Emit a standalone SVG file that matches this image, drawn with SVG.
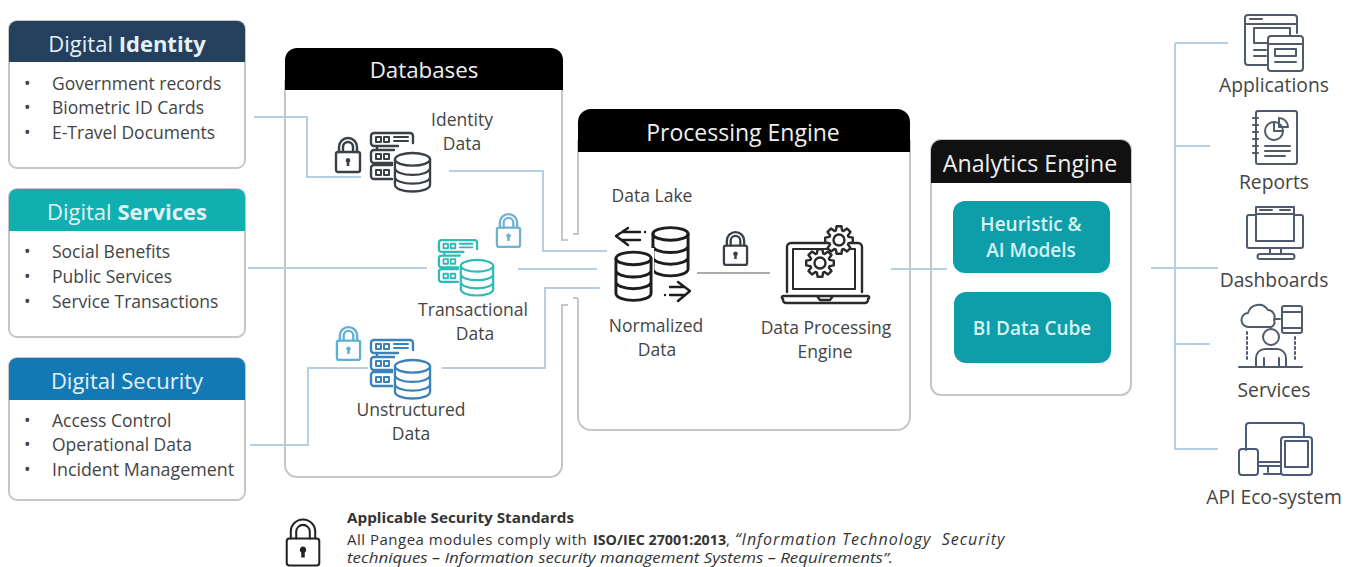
<svg xmlns="http://www.w3.org/2000/svg" width="1352" height="567" viewBox="0 0 1352 567">
<style>
text{font-family:"Open Sans","Noto Sans","Liberation Sans",sans-serif;fill:#444}
.h{font-size:22px;fill:#e4f1f6;text-anchor:middle}
.b{font-weight:700}
.ph{font-size:22.300px;fill:#efefef;text-anchor:middle}
.i{font-size:17.500px;transform:translateY(1px)}
.l{font-size:17.500px;text-anchor:middle;transform:translateY(1px)}
.r{font-size:19.300px;text-anchor:middle;transform:translateY(1px)}
.w{font-size:19px;fill:#d8f2f4;text-anchor:middle;font-weight:600}
.s{font-size:15px;fill:#333}
.card{fill:#fff;stroke:#c4c6c9;stroke-width:2}
.conn{fill:none;stroke:#b4cfe6;stroke-width:2}
.gr{fill:none;stroke:#c4c6c9;stroke-width:2}
.ic{fill:none;stroke:currentColor;stroke-width:var(--sw,2.400);stroke-linejoin:round;stroke-linecap:round}
.ict{fill:none;stroke:currentColor;stroke-width:2;stroke-linejoin:round;stroke-linecap:round}
</style>
<defs>
<symbol id="lock" viewBox="0 0 28 36" overflow="visible">
<path class="ic" d="M5 15V10a9 9 0 0 1 18 0v5M9 15V10a5 5 0 0 1 10 0v5"/>
<rect class="ic" x="2" y="15" width="24" height="20" rx="2"/>
<path d="M14 21a2.400 2.400 0 0 1 1.300 4.400V29h-2.600v-3.600A2.400 2.400 0 0 1 14 21z" fill="currentColor"/>
</symbol>
<symbol id="db" viewBox="0 0 40 42" overflow="visible">
<ellipse class="ic" cx="20" cy="8" rx="18" ry="6.500"/>
<path class="ic" d="M2 8v26c0 4 8 7 18 7s18-3 18-7V8M2 17c0 4 8 7 18 7s18-3 18-7M2 26c0 4 8 7 18 7s18-3 18-7"/>
</symbol>
<symbol id="dbt" viewBox="0 0 40 52" overflow="visible">
<ellipse class="ic" cx="20" cy="8" rx="18" ry="6.500" style="--sw:3"/>
<path class="ic" style="--sw:3" d="M2 8v36c0 4 8 7 18 7s18-3 18-7V8M2 20c0 4 8 7 18 7s18-3 18-7M2 32c0 4 8 7 18 7s18-3 18-7"/>
</symbol>
<symbol id="srv" viewBox="0 0 44 48" overflow="visible">
<path class="ic" d="M28 14H4a3 3 0 0 1-3-3V4a3 3 0 0 1 3-3h36a3 3 0 0 1 3 3v7M22 31H4a3 3 0 0 1-3-3v-7a3 3 0 0 1 3-3h20M22 47H4a3 3 0 0 1-3-3v-8a3 3 0 0 1 3-3h18M7 14v4M7 31v2"/>
<path class="ict" d="M6 5h5v5H6zM14 5h5v5h-5zM24 5h14M24 9h14M6 22h5v5H6zM14 22h5v5h-5zM6 38h5v5H6zM14 38h5v5h-5z"/>
</symbol>
<g id="stack"><use href="#srv" width="44" height="48"/><use href="#db" x="23" y="19" width="39" height="42"/></g>
<g id="gear"><path fill="#fff" stroke="currentColor" stroke-width="2.400" stroke-linejoin="round" d="M9.510-3.090L13.790-2.430L13.790 2.430L9.510 3.090L8.910 4.540L11.470 8.030L8.030 11.470L4.540 8.910L3.090 9.510L2.430 13.790L-2.430 13.790L-3.090 9.510L-4.540 8.910L-8.030 11.470L-11.470 8.030L-8.910 4.540L-9.510 3.090L-13.790 2.430L-13.790-2.430L-9.510-3.090L-8.910-4.540L-11.470-8.030L-8.030-11.470L-4.540-8.910L-3.090-9.510L-2.430-13.790L2.430-13.790L3.090-9.510L4.540-8.910L8.030-11.470L11.470-8.030L8.910-4.540z"/><circle r="5.500" fill="none" stroke="currentColor" stroke-width="2.400"/></g>
</defs>

<g id="digital-identity">
<rect class="card" x="9" y="21" width="236" height="147" rx="8"/>
<path d="M9 62V29a8 8 0 0 1 8-8H237a8 8 0 0 1 8 8V62z" fill="#25405f"/>
<text class="h" x="127" y="52">Digital <tspan class="b">Identity</tspan></text>
<text class="i" x="24" y="89">•</text><text class="i" x="52" y="89">Government records</text>
<text class="i" x="24" y="113">•</text><text class="i" x="52" y="113">Biometric ID Cards</text>
<text class="i" x="24" y="138">•</text><text class="i" x="52" y="138">E-Travel Documents</text>
</g>
<g id="digital-services">
<rect class="card" x="9" y="189" width="236" height="148" rx="8"/>
<path d="M9 231V197a8 8 0 0 1 8-8H237a8 8 0 0 1 8 8V231z" fill="#0fb0b0"/>
<text class="h" x="127" y="220">Digital <tspan class="b">Services</tspan></text>
<text class="i" x="24" y="257">•</text><text class="i" x="52" y="257">Social Benefits</text>
<text class="i" x="24" y="282">•</text><text class="i" x="52" y="282">Public Services</text>
<text class="i" x="24" y="307">•</text><text class="i" x="52" y="307">Service Transactions</text>
</g>
<g id="digital-security">
<rect class="card" x="9" y="358" width="236" height="142" rx="8"/>
<path d="M9 400V366a8 8 0 0 1 8-8H237a8 8 0 0 1 8 8V400z" fill="#1379b5"/>
<text class="h" x="127" y="389">Digital Security</text>
<text class="i" x="24" y="426">•</text><text class="i" x="52" y="426">Access Control</text>
<text class="i" x="24" y="450">•</text><text class="i" x="52" y="450">Operational Data</text>
<text class="i" x="24" y="475">•</text><text class="i" x="52" y="475" textLength="182" lengthAdjust="spacingAndGlyphs">Incident Management</text>
</g>

<g id="databases">
<path class="gr" d="M285 80V465a12 12 0 0 0 12 12H550a12 12 0 0 0 12-12V305H568M562 80V240H568"/>
<path d="M285 90V60a12 12 0 0 1 12-12H551a12 12 0 0 1 12 12V90z" fill="#000"/>
<text class="ph" x="424" y="78">Databases</text>
</g>
<g id="processing-engine">
<path class="gr" d="M578 140V234H573M578 298V417a13 13 0 0 0 13 13H897a13 13 0 0 0 13-13V140M578 298H573"/>
<path d="M578 152V122a13 13 0 0 1 13-13H897a13 13 0 0 1 13 13V152z" fill="#000"/>
<text class="ph" style="font-size:23px" x="743" y="141">Processing Engine</text>
</g>
<g id="analytics-engine">
<rect class="card" x="931" y="140" width="200" height="255" rx="10"/>
<path d="M931 183V150a10 10 0 0 1 10-10H1121a10 10 0 0 1 10 10V183z" fill="#111"/>
<text class="ph" style="font-size:23.200px" x="1030" y="172">Analytics Engine</text>
</g>

<g id="connectors">
<path class="conn" d="M254 117H307V177H361"/>
<path class="conn" d="M449 171H543V251H607"/>
<path class="conn" d="M248 268H427"/>
<path class="conn" d="M518 269H597"/>
<path class="conn" d="M442 368H545V288H600"/>
<path class="conn" d="M250 445H308V368H368"/>
<path class="gr" style="stroke:#8d9296;stroke-width:1.600" d="M697 273H770"/>
<path class="conn" d="M891 269H947"/>
<path class="conn" d="M1151 268H1218M1175 43V449H1218M1175 43H1228M1175 146H1210M1175 344H1210"/>
</g>

<g id="identity-data" color="#3b3f46">
<use href="#lock" x="334" y="137" width="28" height="36"/>
<use href="#stack" x="370" y="132"/>
<text class="l" x="462" y="125">Identity</text><text class="l" x="462" y="149">Data</text>
</g>
<g id="transactional-data" color="#2cbcb8">
<use href="#lock" x="495" y="213" width="27" height="35" color="#6fb3d0"/>
<use href="#srv" x="438" y="238" width="40" height="46"/>
<use href="#db" x="459" y="258" width="36" height="39"/>
<text class="l" x="473" y="315">Transactional</text><text class="l" x="475" y="339">Data</text>
</g>
<g id="unstructured-data" color="#3a82b8">
<use href="#lock" x="335" y="326" width="27" height="35" color="#5fb0d4"/>
<use href="#stack" x="370" y="339"/>
<text class="l" x="411" y="415">Unstructured</text><text class="l" x="411" y="439">Data</text>
</g>

<g id="normalized-data" color="#1d1d1d">
<use href="#dbt" x="651" y="226" width="39" height="51"/>
<rect x="613" y="248" width="41" height="55" fill="#fff"/>
<use href="#dbt" x="614" y="250" width="39" height="52"/>
<path class="ic" d="M628 228L616 236L628 245M622 232H640M622 240H640M645 232V232"/>
<path class="ic" d="M678 282L690 291L678 301M665 295V295M670 287H684M670 295H684"/>
<text class="l" x="652" y="201">Data Lake</text>
<text class="l" x="656" y="331">Normalized</text><text class="l" x="657" y="355">Data</text>
</g>
<g id="pipeline-lock" color="#3b3f46"><use href="#lock" x="722" y="231" width="27" height="35"/></g>
<g id="data-processing-engine" color="#2a2a2a">
<path class="ic" d="M787 292V247a4 4 0 0 1 4-4H858a4 4 0 0 1 4 4V292M787 296H784a1.500 1.500 0 0 0-1 3v1a3 3 0 0 0 3 3H865a3 3 0 0 0 3-3v-1a1.500 1.500 0 0 0-1-3H787M817 296l3 4H830l3-4"/>
<rect class="ict" x="793" y="249" width="62" height="40"/>
<use href="#gear" x="839" y="240"/>
<use href="#gear" x="820" y="263"/>
<text class="l" x="826" y="333">Data Processing</text><text class="l" x="825" y="357">Engine</text>
</g>

<g id="heuristic-models">
<rect x="953" y="201" width="157" height="72" rx="12" fill="#0e9eaa"/>
<text class="w" x="1031" y="231">Heuristic &amp;</text><text class="w" x="1031" y="257">AI Models</text>
</g>
<g id="bi-data-cube">
<rect x="954" y="292" width="157" height="71" rx="12" fill="#0e9eaa"/>
<text class="w" x="1032" y="335">BI Data Cube</text>
</g>

<g id="applications" color="#4f5a6b">
<path class="ict" d="M1267 65H1248a3 3 0 0 1-3-3V18a3 3 0 0 1 3-3H1294a3 3 0 0 1 3 3V33M1245 24H1297M1250 19H1262M1254 28H1290V36M1254 28V43H1267M1254 50H1266M1254 56H1266"/>
<rect class="ict" x="1268" y="36" width="35" height="35" rx="3"/>
<path class="ict" d="M1268 44H1303M1275 49H1296V56H1275zM1275 62H1296"/>
<text class="r" x="1274" y="91">Applications</text>
</g>
<g id="reports" color="#4f5a6b">
<rect class="ict" x="1256" y="111" width="41" height="53" rx="2"/>
<path class="ict" d="M1253 118h5M1253 125h5M1253 132h5M1253 139h5M1253 146h5M1253 153h5M1265 146H1290M1265 151H1290M1265 156H1285"/>
<circle class="ict" cx="1274" cy="131" r="9"/><path class="ict" d="M1274 122V131H1283M1279 118a9 9 0 0 1 9 9h-9z"/>
<text class="r" x="1274" y="188">Reports</text>
</g>
<g id="dashboards" color="#4f5a6b">
<path class="ict" d="M1256 215H1249a2 2 0 0 0-2 2V246a2 2 0 0 0 2 2H1301a2 2 0 0 0 2-2V217a2 2 0 0 0-2-2H1294M1256 241V207H1294V241M1256 241H1294M1256 214H1294M1260 210H1272M1280 210H1290M1270 248V254M1281 254V248M1260 259H1292a2.500 2.500 0 0 0 0-5H1260a2.500 2.500 0 0 0 0 5z"/>
<text class="r" x="1274" y="286">Dashboards</text>
</g>
<g id="services" color="#4f5a6b">
<path class="ict" d="M1249 327a7 7 0 0 1-1-14 11 11 0 0 1 20-3 7 7 0 0 1 6 10 5 5 0 0 1-3 7zM1274 319H1280"/>
<rect class="ict" x="1282" y="306" width="20" height="27" rx="2"/>
<path class="ict" d="M1282 312H1302M1282 328H1302"/>
<path class="ict" stroke-dasharray="2 3" d="M1247 332V360M1295 337V360"/>
<circle class="ict" cx="1271" cy="337" r="8"/>
<path class="ict" d="M1256 366V358a9 9 0 0 1 9-9H1277a9 9 0 0 1 9 9V366M1264 358V366M1279 358V366M1239 367H1302"/>
<text class="r" x="1274" y="396">Services</text>
</g>
<g id="api-eco-system" color="#4a5a78">
<path class="ict" d="M1246 450V426a3 3 0 0 1 3-3H1301a3 3 0 0 1 3 3V436M1258 462H1281M1258 466H1281M1268 466V472M1264 474H1281"/>
<rect class="ict" x="1239" y="449" width="19" height="26" rx="3"/>
<rect class="ict" x="1281" y="437" width="31" height="38" rx="3"/>
<rect class="ict" x="1285" y="441" width="23" height="26"/>
<text class="r" x="1274" y="503">API Eco-system</text>
</g>

<g id="security-note">
<g color="#222" style="--sw:1.500"><use href="#lock" x="284" y="518" width="38" height="49"/></g>
<text class="s b" x="347" y="523" textLength="227" lengthAdjust="spacingAndGlyphs">Applicable Security Standards</text>
<text class="s" y="545" xml:space="preserve"><tspan x="347" letter-spacing="0.500">All Pangea modules comply with</tspan><tspan x="593" class="b" font-size="14.300">ISO/IEC 27001:2013</tspan><tspan>,</tspan><tspan x="735" font-style="italic" font-size="16" letter-spacing="1">“Information Technology  Security</tspan></text>
<text class="s" x="347" y="563" font-style="italic" textLength="546" lengthAdjust="spacingAndGlyphs">techniques – Information security management Systems – Requirements”.</text>
</g>
</svg>
